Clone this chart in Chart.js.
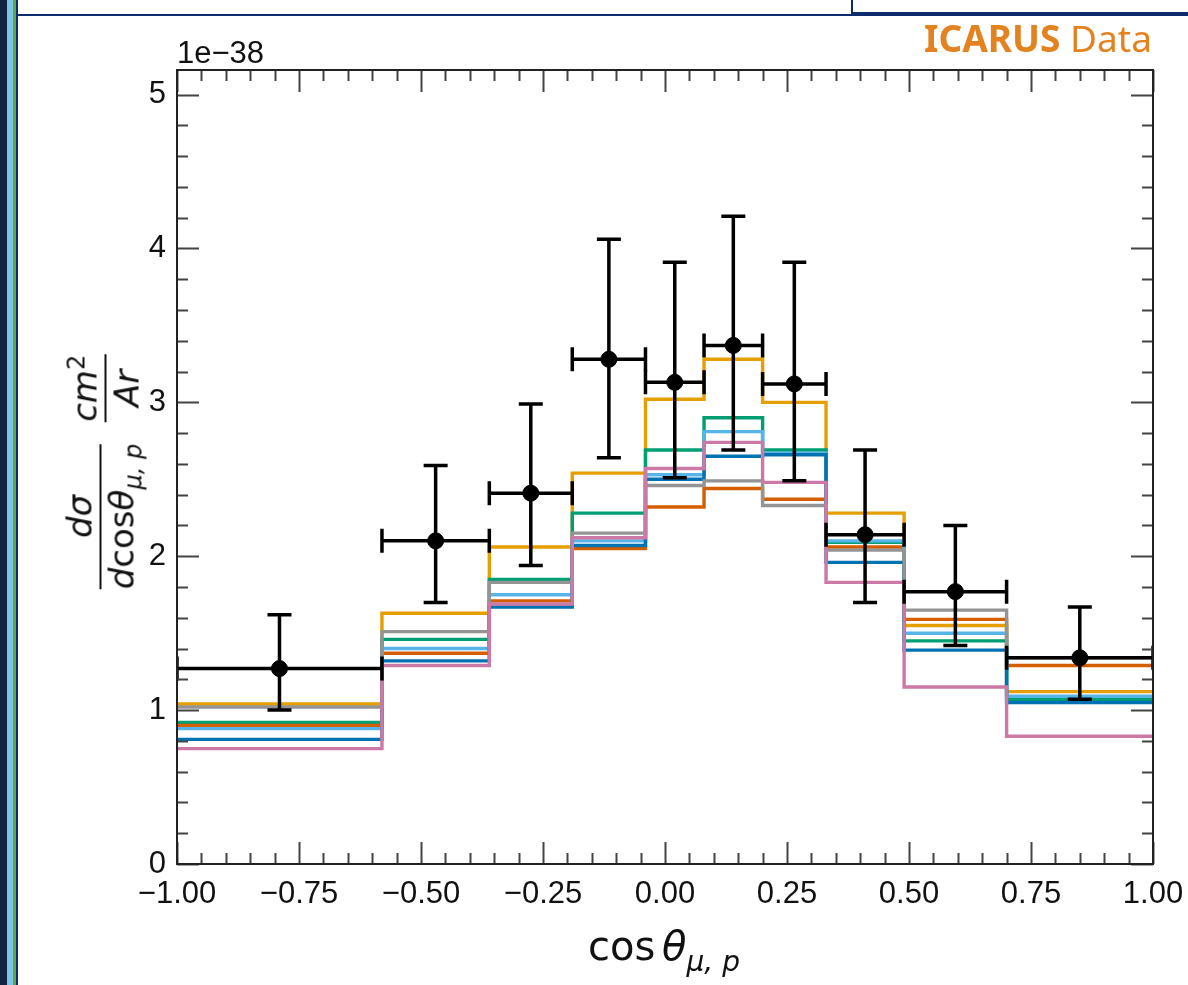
<!DOCTYPE html>
<html>
<head>
<meta charset="utf-8">
<script src="https://cdn.jsdelivr.net/npm/chart.js@4"></script>
<style>
  html,body{margin:0;padding:0;background:#fff;overflow:hidden;}
  #wrap{position:relative;width:1188px;height:985px;}
  canvas{position:absolute;left:0;top:0;}
  .strip{position:absolute;top:0;height:985px;}
  .lbl{position:absolute;white-space:nowrap;line-height:1;}
  .frac{display:inline-flex;flex-direction:column;align-items:center;}
  .frac .bar{align-self:stretch;height:2px;background:#111;margin:3px 0;}
  .frac i{font-style:italic;}
</style>
</head>
<body>
<div id="wrap">
  <canvas id="chart" width="1188" height="985"></canvas>
  <div class="strip" style="left:0;width:7px;background:#0f2542"></div>
  <div class="strip" style="left:7px;width:6px;background:#7dc3e6"></div>
  <div class="strip" style="left:13px;width:3px;background:#5cab3d"></div>
  <div class="strip" style="left:16px;width:2px;background:#0d2c70"></div>
  <div style="position:absolute;left:17px;top:14px;width:1171px;height:2px;background:#0d2c70"></div>
  <div style="position:absolute;left:851px;top:-3px;width:340px;height:13px;border:2px solid #0d2c70;background:#fff"></div>

  <div class="lbl" style="left:177px;top:37px;font-family:'Liberation Sans';font-size:31px;color:#111">1e&minus;38</div>
  <div class="lbl" style="right:36px;top:19px;font-family:'Noto Sans';font-size:37px;color:#e3821f"><b>ICARUS</b> Data</div>
  <div class="lbl" style="left:664px;top:926px;transform:translateX(-50%);font-family:'DejaVu Sans';font-size:40px;color:#111">cos&#8198;<i>θ</i><sub style="font-size:28px;vertical-align:-11px"><i>μ, p</i></sub></div>
  <div id="ytitle" class="lbl" style="left:104px;top:472px;transform:translate(-50%,-50%) rotate(-90deg);font-family:'DejaVu Sans';font-size:34px;color:#111;display:flex;align-items:center;gap:22px">
    <span class="frac"><span><i>dσ</i></span><span class="bar"></span><span><i>d</i>cos<i>θ</i><sub style="font-size:24px;vertical-align:-8px"><i>μ, p</i></sub></span></span>
    <span class="frac"><span><i>cm</i><sup style="font-size:24px;vertical-align:12px">2</sup></span><span class="bar"></span><span><i>Ar</i></span></span>
  </div>
</div>
<script>
// bin edges of cos(theta_mu,p) and axis ticks
const binEdges=[-1,-0.58,-0.36,-0.19,-0.04,0.08,0.20,0.33,0.49,0.70,1.00];
const xTicks=[-1,-0.75,-0.5,-0.25,0,0.25,0.5,0.75,1];
const yTicks=[0,1,2,3,4,5];

// ICARUS data points (units of 1e-38 cm^2/Ar)
const dataX=[-0.79,-0.47,-0.275,-0.115,0.02,0.14,0.265,0.41,0.595,0.85];
const dataVal=[1.27,2.10,2.41,3.28,3.13,3.37,3.12,2.14,1.77,1.34];
const dataUp=[1.62,2.59,2.99,4.06,3.91,4.21,3.91,2.69,2.20,1.67];
const dataLo=[1.00,1.70,1.94,2.64,2.51,2.69,2.49,1.70,1.42,1.07];

// generator predictions
const mcOrange=[1.04,1.63,2.06,2.54,3.02,3.28,3.00,2.28,1.55,1.12];
const mcGray=[1.02,1.51,1.83,2.15,2.46,2.49,2.33,2.04,1.65,1.34];
const mcGreen=[0.92,1.46,1.85,2.28,2.69,2.90,2.69,2.09,1.45,1.07];
const mcLightBlue=[0.88,1.40,1.75,2.10,2.53,2.81,2.67,2.10,1.50,1.09];
const mcVermillion=[0.90,1.37,1.71,2.05,2.32,2.44,2.37,2.06,1.59,1.29];
const mcBlue=[0.81,1.32,1.67,2.07,2.50,2.65,2.66,1.96,1.39,1.05];
const mcPink=[0.75,1.29,1.69,2.12,2.57,2.74,2.48,1.83,1.15,0.83];

function stepPts(vals){
  const pts=vals.map((v,i)=>({x:binEdges[i],y:v}));
  pts.push({x:binEdges[binEdges.length-1],y:vals[vals.length-1]});
  return pts;
}
function hist(vals,color){
  return {data:stepPts(vals),borderColor:color,borderWidth:3.4,pointRadius:0,stepped:'before',fill:false,tension:0};
}

const frame={
  id:'frame',
  afterDatasetsDraw(chart){
    const {ctx,scales:{x,y}}=chart;
    const a=chart.chartArea;
    ctx.save();
    ctx.beginPath();ctx.rect(a.left,a.top,a.right-a.left,a.bottom-a.top);ctx.clip();
    ctx.strokeStyle='#000';ctx.lineWidth=3.5;
    for(let i=0;i<dataX.length;i++){
      const cx=x.getPixelForValue(dataX[i]),cy=y.getPixelForValue(dataVal[i]);
      const yu=y.getPixelForValue(dataUp[i]),yl=y.getPixelForValue(dataLo[i]);
      const xl=x.getPixelForValue(binEdges[i]),xr=x.getPixelForValue(binEdges[i+1]);
      ctx.beginPath();
      ctx.moveTo(cx,yu);ctx.lineTo(cx,yl);
      ctx.moveTo(cx-12,yu);ctx.lineTo(cx+12,yu);
      ctx.moveTo(cx-12,yl);ctx.lineTo(cx+12,yl);
      ctx.moveTo(xl,cy);ctx.lineTo(xr,cy);
      ctx.moveTo(xl,cy-12);ctx.lineTo(xl,cy+12);
      ctx.moveTo(xr,cy-12);ctx.lineTo(xr,cy+12);
      ctx.stroke();
    }
    ctx.restore();
  },
  afterDraw(chart){
    const {ctx,scales:{x,y}}=chart;
    const a=chart.chartArea;
    ctx.save();
    ctx.strokeStyle='#444';ctx.lineWidth=2;
    ctx.beginPath();
    for(let k=0;k<=40;k++){
      const v=-1+k*0.05,px=Math.round(x.getPixelForValue(v))+0.5;
      const len=(k%5===0)?22:11;
      ctx.moveTo(px,a.bottom);ctx.lineTo(px,a.bottom-len);
      ctx.moveTo(px,a.top);ctx.lineTo(px,a.top+len);
    }
    for(let k=0;k<=25;k++){
      const v=k*0.2,py=Math.round(y.getPixelForValue(v))+0.5;
      const len=(k%5===0)?22:11;
      ctx.moveTo(a.left,py);ctx.lineTo(a.left+len,py);
      ctx.moveTo(a.right,py);ctx.lineTo(a.right-len,py);
    }
    ctx.stroke();
    ctx.strokeStyle='#222';ctx.lineWidth=2;
    ctx.strokeRect(a.left,a.top,a.right-a.left,a.bottom-a.top);
    ctx.restore();
  }
};

const tickFont={family:'Liberation Sans',size:31};
new Chart(document.getElementById('chart'),{
  type:'line',
  data:{datasets:[
    {type:'scatter',data:dataX.map((v,i)=>({x:v,y:dataVal[i]})),pointRadius:8,pointBackgroundColor:'#000',pointBorderColor:'#000',showLine:false},
    hist(mcPink,'#CC79A7'),
    hist(mcGray,'#949494'),
    hist(mcBlue,'#0072B2'),
    hist(mcLightBlue,'#56B4E9'),
    hist(mcVermillion,'#D55E00'),
    hist(mcGreen,'#009E73'),
    hist(mcOrange,'#E69F00')
  ]},
  options:{
    responsive:false,animation:false,devicePixelRatio:1,
    layout:{padding:{top:70,right:35,left:0,bottom:0}},
    plugins:{legend:{display:false},tooltip:{enabled:false}},
    scales:{
      x:{type:'linear',min:-1,max:1,
        afterBuildTicks:s=>{s.ticks=xTicks.map(v=>({value:v}));},
        afterFit:s=>{s.height=121;s.paddingLeft=0;s.paddingRight=0;},
        ticks:{font:tickFont,color:'#111',padding:12,maxRotation:0,autoSkip:false,
          callback:v=>(v<0?'\u2212':'')+Math.abs(v).toFixed(2)},
        grid:{display:false,drawTicks:false},border:{display:false}},
      y:{type:'linear',min:0,max:5.16,
        afterBuildTicks:s=>{s.ticks=yTicks.map(v=>({value:v}));},
        afterFit:s=>{s.width=177;s.paddingTop=0;s.paddingBottom=0;},
        ticks:{font:tickFont,color:'#111',padding:11,callback:v=>String(v)},
        grid:{display:false,drawTicks:false},border:{display:false}}
    }
  },
  plugins:[frame]
});
</script>
</body>
</html>
